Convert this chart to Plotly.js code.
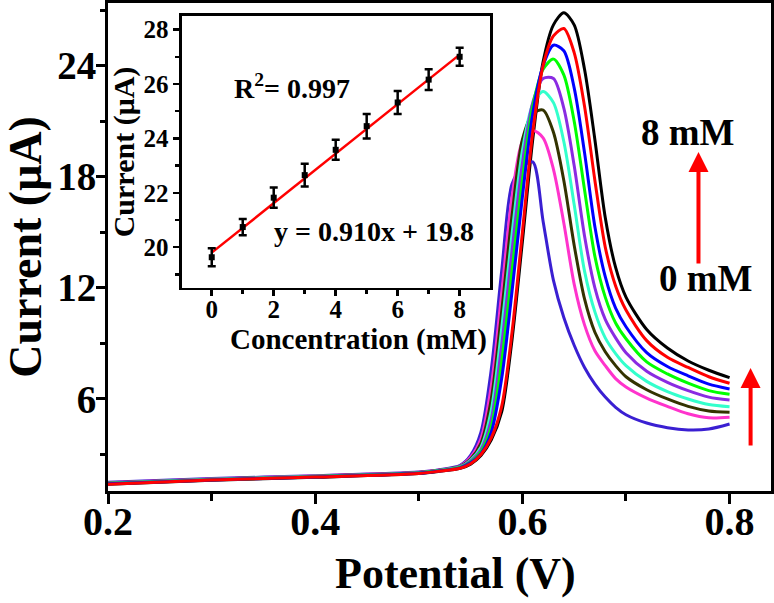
<!DOCTYPE html>
<html>
<head>
<meta charset="utf-8">
<script src="https://cdn.plot.ly/plotly-3.0.1.min.js"></script>
<style>
  html, body { margin: 0; padding: 0; background: #ffffff; }
  #chart { width: 774px; height: 603px; }
</style>
</head>
<body>
<div id="chart"></div>
<script>
// ---------- main chart data ----------
const potential = [0.20, 0.30, 0.40, 0.50, 0.52, 0.54, 0.55, 0.56, 0.57, 0.58, 0.59, 0.60, 0.61,
                   0.62, 0.63, 0.64, 0.65, 0.66, 0.67, 0.68, 0.69, 0.70, 0.72, 0.74, 0.76, 0.78, 0.80];

const current0mM = [1.50, 1.70, 1.86, 2.06, 2.18, 2.42, 2.95, 4.20, 7.60, 12.9, 17.6, 18.5, 18.8,
                    15.6, 12.4, 10.4, 8.90, 7.70, 6.80, 6.10, 5.55, 5.15, 4.70, 4.45, 4.33, 4.38, 4.65];
const current1mM = [1.48, 1.68, 1.84, 2.04, 2.16, 2.38, 2.85, 3.85, 6.70, 11.7, 16.9, 19.9, 20.5,
                    20.1, 18.4, 15.5, 12.2, 10.0, 8.60, 7.80, 7.10, 6.65, 6.05, 5.60, 5.20, 4.98, 5.01];
const current2mM = [1.46, 1.67, 1.83, 2.03, 2.15, 2.36, 2.75, 3.60, 6.00, 10.7, 15.9, 20.0, 21.4,
                    21.6, 20.4, 17.8, 14.3, 11.4, 9.60, 8.55, 7.80, 7.20, 6.50, 6.00, 5.60, 5.35, 5.28];
const current3mM = [1.45, 1.66, 1.82, 2.02, 2.14, 2.34, 2.70, 3.40, 5.40, 9.80, 14.9, 19.4, 21.9,
                    22.6, 22.0, 19.9, 16.5, 12.9, 10.7, 9.30, 8.45, 7.80, 6.95, 6.40, 6.00, 5.70, 5.58];
const current4mM = [1.44, 1.65, 1.81, 2.01, 2.13, 2.32, 2.65, 3.25, 4.90, 8.90, 14.0, 18.7, 22.0,
                    23.3, 23.3, 21.7, 18.6, 14.8, 12.0, 10.3, 9.30, 8.50, 7.50, 6.90, 6.45, 6.10, 5.94];
const current5mM = [1.43, 1.64, 1.80, 2.00, 2.12, 2.30, 2.60, 3.15, 4.50, 8.00, 12.9, 17.8, 21.8,
                    23.8, 24.35, 23.5, 21.0, 17.3, 13.7, 11.5, 10.1, 9.25, 8.00, 7.35, 6.85, 6.45, 6.25];
const current6mM = [1.42, 1.63, 1.79, 1.99, 2.11, 2.28, 2.55, 3.05, 4.20, 7.10, 11.8, 16.9, 21.4,
                    24.0, 25.1, 24.8, 22.8, 19.3, 15.3, 12.6, 10.9, 9.90, 8.50, 7.75, 7.25, 6.80, 6.54];
const current7mM = [1.40, 1.62, 1.78, 1.98, 2.10, 2.26, 2.50, 3.00, 3.90, 5.60, 9.60, 15.0, 20.4,
                    24.0, 25.6, 26.0, 24.7, 21.8, 17.8, 14.2, 12.1, 10.8, 9.15, 8.25, 7.70, 7.20, 6.85];
const current8mM = [1.39, 1.61, 1.77, 1.97, 2.09, 2.25, 2.48, 2.95, 3.80, 5.30, 9.20, 14.5, 20.0,
                    24.2, 26.2, 26.85, 26.2, 23.8, 20.0, 15.8, 13.1, 11.5, 9.75, 8.75, 8.05, 7.55, 7.15];

const seriesNames = ['0 mM', '1 mM', '2 mM', '3 mM', '4 mM', '5 mM', '6 mM', '7 mM', '8 mM'];
const seriesColors = ['#3a1fd2', '#ff33cc', '#333300', '#33ffcc', '#8a2be2', '#00ff00', '#0000ff', '#ff0000', '#000000'];

// tick labels (main)
const mainXTicks = [0.2, 0.4, 0.6, 0.8];
const mainXTickText = ['0.2', '0.4', '0.6', '0.8'];
const mainYTicks = [6, 12, 18, 24];
const mainYTickText = ['6', '12', '18', '24'];

// ---------- inset data ----------
const concentration = [0, 1, 2, 3, 4, 5, 6, 7, 8];
const peakCurrent = [19.63, 20.74, 21.82, 22.65, 23.58, 24.45, 25.32, 26.16, 27.00];
const peakError = [0.33, 0.30, 0.37, 0.42, 0.37, 0.45, 0.42, 0.38, 0.33];
const fitConc = [0, 8];
const fitCurrent = [19.8, 27.08];
const insetXTicks = [0, 2, 4, 6, 8];
const insetYTicks = [20, 22, 24, 26, 28];

const FONT = '"Liberation Serif", "Times New Roman", Times, serif';

const allCurrents = [current0mM, current1mM, current2mM, current3mM, current4mM,
                     current5mM, current6mM, current7mM, current8mM];
const drawOrder = [8, 0, 1, 2, 3, 4, 5, 6, 7];

const traces = drawOrder.map(i => ({
  type: 'scatter', mode: 'lines', name: seriesNames[i],
  x: potential, y: allCurrents[i],
  line: { color: seriesColors[i], width: 3, shape: 'spline', smoothing: 0.8 },
  xaxis: 'x', yaxis: 'y', showlegend: false, hoverinfo: 'skip'
}));

traces.push({
  type: 'scatter', mode: 'lines', x: fitConc, y: fitCurrent,
  line: { color: '#ff0000', width: 2.5 }, xaxis: 'x2', yaxis: 'y2', showlegend: false
});
traces.push({
  type: 'scatter', mode: 'markers', x: concentration, y: peakCurrent,
  marker: { symbol: 'square', size: 6, color: '#000000' },
  error_y: { type: 'data', array: peakError, visible: true, color: '#000000', thickness: 2.5, width: 4 },
  xaxis: 'x2', yaxis: 'y2', showlegend: false
});

const axisCommon = {
  showline: true, linecolor: '#000000', mirror: true, showgrid: false, zeroline: false,
  ticks: 'outside', tickcolor: '#000000'
};

const layout = {
  width: 774, height: 603,
  margin: { l: 108, r: 3, t: 3, b: 112 },
  paper_bgcolor: '#ffffff', plot_bgcolor: '#ffffff',
  font: { family: FONT, color: '#000000', weight: 'bold' },
  showlegend: false,
  xaxis: Object.assign({}, axisCommon, {
    range: [0.2, 0.84], linewidth: 3, tickwidth: 3, ticklen: 10,
    tickvals: mainXTicks, ticktext: mainXTickText, ticklabelstandoff: -17,
    tickfont: { family: FONT, size: 40, weight: 'bold' },
    minor: { tickvals: [0.3, 0.5, 0.7], ticklen: 7, tickwidth: 3, ticks: 'outside', tickcolor: '#000000' }
  }),
  yaxis: Object.assign({}, axisCommon, {
    range: [1.03, 27.38], linewidth: 3, tickwidth: 3, ticklen: 9,
    tickvals: mainYTicks, ticktext: mainYTickText, ticklabelstandoff: -8,
    tickfont: { family: FONT, size: 39, weight: 'bold' },
    minor: { tickvals: [3, 9, 15, 21, 27], ticklen: 5, tickwidth: 3, ticks: 'outside', tickcolor: '#000000' },
    title: { text: 'Current (μA)', font: { family: FONT, size: 46, weight: 'bold' }, standoff: 16 }
  }),
  xaxis2: Object.assign({}, axisCommon, {
    domain: [0.1116, 0.5762], anchor: 'y2', range: [-0.96, 8.98],
    linewidth: 2.5, tickwidth: 2.5, ticklen: 6, ticklabelstandoff: -8, ticklabeloverflow: 'allow',
    tickvals: insetXTicks, tickfont: { family: FONT, size: 25, weight: 'bold' },
    minor: { tickvals: [1, 3, 5, 7], ticklen: 4, tickwidth: 2.5, ticks: 'outside', tickcolor: '#000000' }
  }),
  yaxis2: Object.assign({}, axisCommon, {
    domain: [0.416, 0.9734], anchor: 'x2', range: [18.5, 28.5],
    linewidth: 2.5, tickwidth: 2.5, ticklen: 6, ticklabeloverflow: 'allow',
    tickvals: insetYTicks, tickfont: { family: FONT, size: 25, weight: 'bold' },
    minor: { tickvals: [19, 21, 23, 25, 27], ticklen: 4, tickwidth: 2.5, ticks: 'outside', tickcolor: '#000000' },
    title: { text: 'Current (μA)', font: { family: FONT, size: 30, weight: 'bold' }, standoff: 0 }
  }),
  annotations: [
    // x-axis titles placed where the reference has them
    { xref: 'paper', yref: 'paper', x: (455 - 108) / 663, y: (491 - 573) / 488, xanchor: 'center', yanchor: 'middle',
      text: 'Potential (V)', showarrow: false, font: { family: FONT, size: 44, weight: 'bold' } },
    { xref: 'paper', yref: 'paper', x: (358 - 108) / 663, y: (491 - 339) / 488, xanchor: 'center', yanchor: 'middle',
      text: 'Concentration (mM)', showarrow: false, font: { family: FONT, size: 29, weight: 'bold' } },
    { xref: 'x2', yref: 'y2', x: 2.59, y: 25.89, text: 'R<sup>2</sup>= 0.997', showarrow: false,
      font: { family: FONT, size: 28, weight: 'bold' } },
    { xref: 'x2', yref: 'y2', x: 5.23, y: 20.56, text: 'y = 0.910x + 19.8', showarrow: false,
      font: { family: FONT, size: 28, weight: 'bold' } },
    { xref: 'x', yref: 'y', x: 0.7594, y: 20.41, text: '8 mM', showarrow: false,
      font: { family: FONT, size: 37, weight: 'bold' } },
    { xref: 'x', yref: 'y', x: 0.7768, y: 12.48, text: '0 mM', showarrow: false,
      font: { family: FONT, size: 37, weight: 'bold' } },
    { xref: 'x', yref: 'y', axref: 'x', ayref: 'y', x: 0.770, y: 19.34, ax: 0.770, ay: 13.23,
      text: '', showarrow: true, arrowhead: 2, arrowsize: 1, arrowwidth: 4, arrowcolor: '#ff0000' },
    { xref: 'x', yref: 'y', axref: 'x', ayref: 'y', x: 0.8203, y: 7.67, ax: 0.8203, ay: 3.41,
      text: '', showarrow: true, arrowhead: 2, arrowsize: 1, arrowwidth: 4, arrowcolor: '#ff0000' }
  ]
};

Plotly.newPlot('chart', traces, layout, { staticPlot: true, displayModeBar: false });
</script>
</body>
</html>
